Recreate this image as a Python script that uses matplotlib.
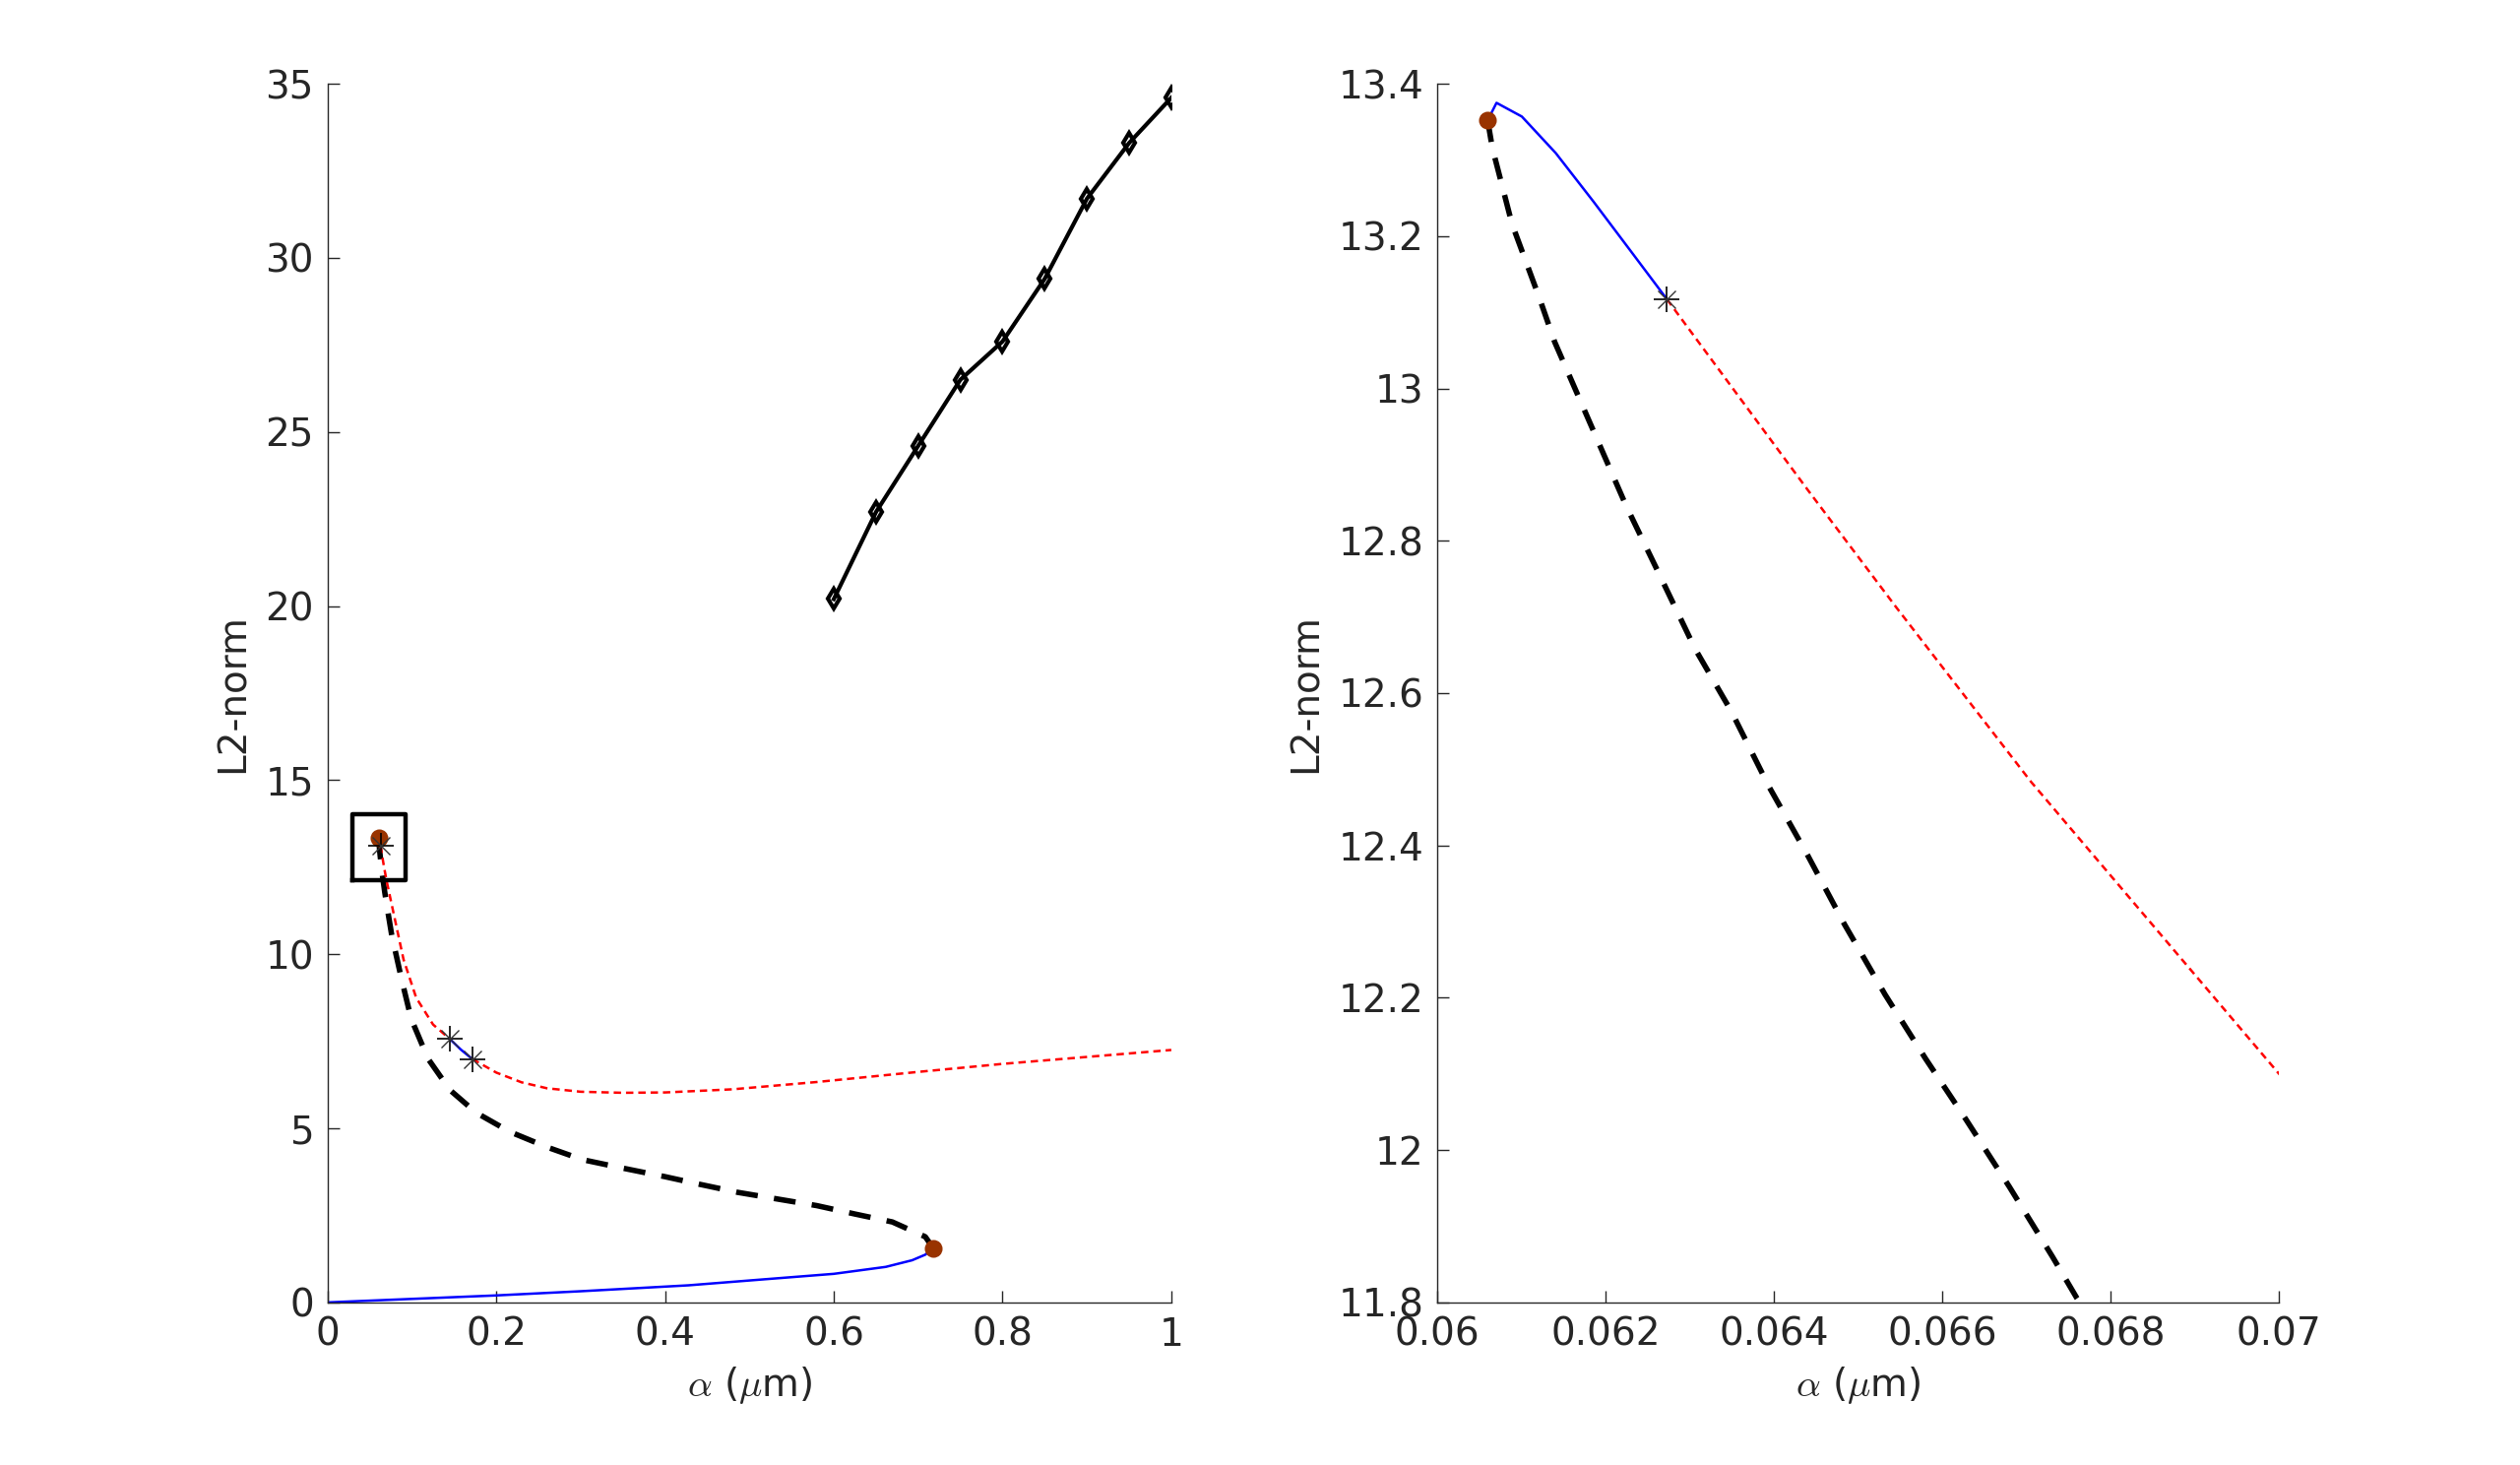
import numpy as np
import matplotlib.pyplot as plt

plt.rcParams['font.family'] = ['DejaVu Sans']
plt.rcParams['mathtext.fontset'] = 'cm'

# branch with diamonds (large alpha)
top_x = [0.6, 0.65, 0.7, 0.75, 0.8, 0.85, 0.9, 0.95, 1.0]
top_y = [20.2, 22.7, 24.6, 26.5, 27.6, 29.4, 31.7, 33.3, 34.6]

# lower stable branch (blue)
low_x = [0, 0.1, 0.2, 0.3, 0.4277, 0.5057, 0.6, 0.6616, 0.6928, 0.7084, 0.718]
low_y = [0, 0.1, 0.2, 0.32, 0.49, 0.64, 0.82, 1.02, 1.21, 1.37, 1.555]

# middle unstable branch (black dashed)
mid_x = [0.0606, 0.060655, 0.060889, 0.06122, 0.061396, 0.062244, 0.06266,
         0.063064, 0.063494, 0.063942, 0.064391, 0.06484, 0.065321, 0.065801,
         0.066282, 0.066795, 0.067308, 0.067596, 0.070, 0.076, 0.0875, 0.099,
         0.119, 0.145, 0.176, 0.216, 0.26, 0.302, 0.349, 0.40, 0.4413, 0.4862,
         0.533, 0.5797, 0.6246, 0.6694, 0.7084, 0.718]
mid_y = [13.352, 13.316, 13.216, 13.117, 13.061, 12.846, 12.751,
         12.658, 12.576, 12.477, 12.389, 12.296, 12.204, 12.12,
         12.04, 11.952, 11.86, 11.806, 11.43, 10.55, 9.3, 8.15,
         7.0, 6.1, 5.45, 4.9, 4.46, 4.1, 3.86, 3.61, 3.39, 3.16,
         2.97, 2.78, 2.54, 2.31, 1.885, 1.555]

# upper branch: stable (blue) / unstable (red dotted) pieces
up1_x = [0.0606, 0.060705, 0.061006, 0.061409, 0.061859, 0.062295, 0.06273]
up1_y = [13.352, 13.375, 13.357, 13.309, 13.245, 13.181, 13.117]
up2_x = [0.06273, 0.0644, 0.06545, 0.06705, 0.070, 0.078, 0.09, 0.105, 0.125, 0.1447]
up2_y = [13.117, 12.867, 12.713, 12.484, 12.10, 11.2, 9.85, 8.75, 7.98, 7.57]
up3_x = [0.1447, 0.158, 0.1715]
up3_y = [7.57, 7.26, 6.99]
up4_x = [0.1715, 0.2, 0.23, 0.26, 0.3, 0.35, 0.4, 0.48, 0.58, 0.7, 0.8, 0.9, 1.0]
up4_y = [6.99, 6.6, 6.32, 6.15, 6.05, 6.02, 6.03, 6.12, 6.33, 6.62, 6.85, 7.05, 7.25]

# special points
fold_x = [0.0606, 0.718]
fold_y = [13.352, 1.555]
hopf_x = [0.06273, 0.1447, 0.1715]
hopf_y = [13.117, 7.57, 6.99]

# zoom box drawn on the left panel
box_x = [0.029, 0.092, 0.092, 0.029, 0.029]
box_y = [12.13, 12.13, 14.02, 14.02, 12.13]

txt = '#262626'
brown = '#993300'

fig = plt.figure(figsize=(12.8, 7.44), dpi=200)
ax1 = fig.add_axes([0.130, 0.111, 0.3348, 0.8318])
ax2 = fig.add_axes([0.5703, 0.111, 0.3341, 0.8318])


def draw(ax):
    ax.plot(low_x, low_y, color='blue', lw=0.9)
    ax.plot(mid_x, mid_y, color='black', lw=2.0, dashes=(4, 3))
    ax.plot(up1_x, up1_y, color='blue', lw=0.9)
    ax.plot(up2_x, up2_y, color='red', lw=0.9, dashes=(3, 2))
    ax.plot(up3_x, up3_y, color='blue', lw=0.9)
    ax.plot(up4_x, up4_y, color='red', lw=0.9, dashes=(3, 2))
    ax.plot(fold_x, fold_y, 'o', color=brown, ms=5.5, zorder=5)
    ax.plot(hopf_x, hopf_y, '+', color='black', ms=9.5, mew=0.6, zorder=6)
    ax.plot(hopf_x, hopf_y, 'x', color='#333333', ms=6.5, mew=0.5, zorder=6)


draw(ax1)
ax1.plot(top_x, top_y, color='black', lw=1.5, marker='d', ms=5,
         mfc='none', mec='black', mew=1.5)
ax1.plot(box_x, box_y, color='black', lw=1.6)

draw(ax2)

ax1.set_xlim(0, 1)
ax1.set_ylim(0, 35)
ax1.set_xticks([0, 0.2, 0.4, 0.6, 0.8, 1])
ax1.set_xticklabels(['0', '0.2', '0.4', '0.6', '0.8', '1'])
ax1.set_yticks(np.arange(0, 36, 5))

ax2.set_xlim(0.06, 0.07)
ax2.set_ylim(11.8, 13.4)
ax2.set_xticks([0.06, 0.062, 0.064, 0.066, 0.068, 0.07])
ax2.set_xticklabels(['0.06', '0.062', '0.064', '0.066', '0.068', '0.07'])
ax2.set_yticks([11.8, 12, 12.2, 12.4, 12.6, 12.8, 13, 13.2, 13.4])
ax2.set_yticklabels(['11.8', '12', '12.2', '12.4', '12.6', '12.8', '13', '13.2', '13.4'])

for ax in (ax1, ax2):
    ax.spines['top'].set_visible(False)
    ax.spines['right'].set_visible(False)
    for s in ('left', 'bottom'):
        ax.spines[s].set_color(txt)
        ax.spines[s].set_linewidth(0.5)
    ax.tick_params(direction='in', length=4.3, width=0.5, colors=txt,
                   labelsize=14, pad=5)
    ax.set_xlabel(r'$\alpha$ ($\mu$m)', fontsize=14, color=txt, labelpad=4)
    ax.set_ylabel('L2-norm', fontsize=14, color=txt, labelpad=5)

fig.savefig('out.png', dpi=200)
